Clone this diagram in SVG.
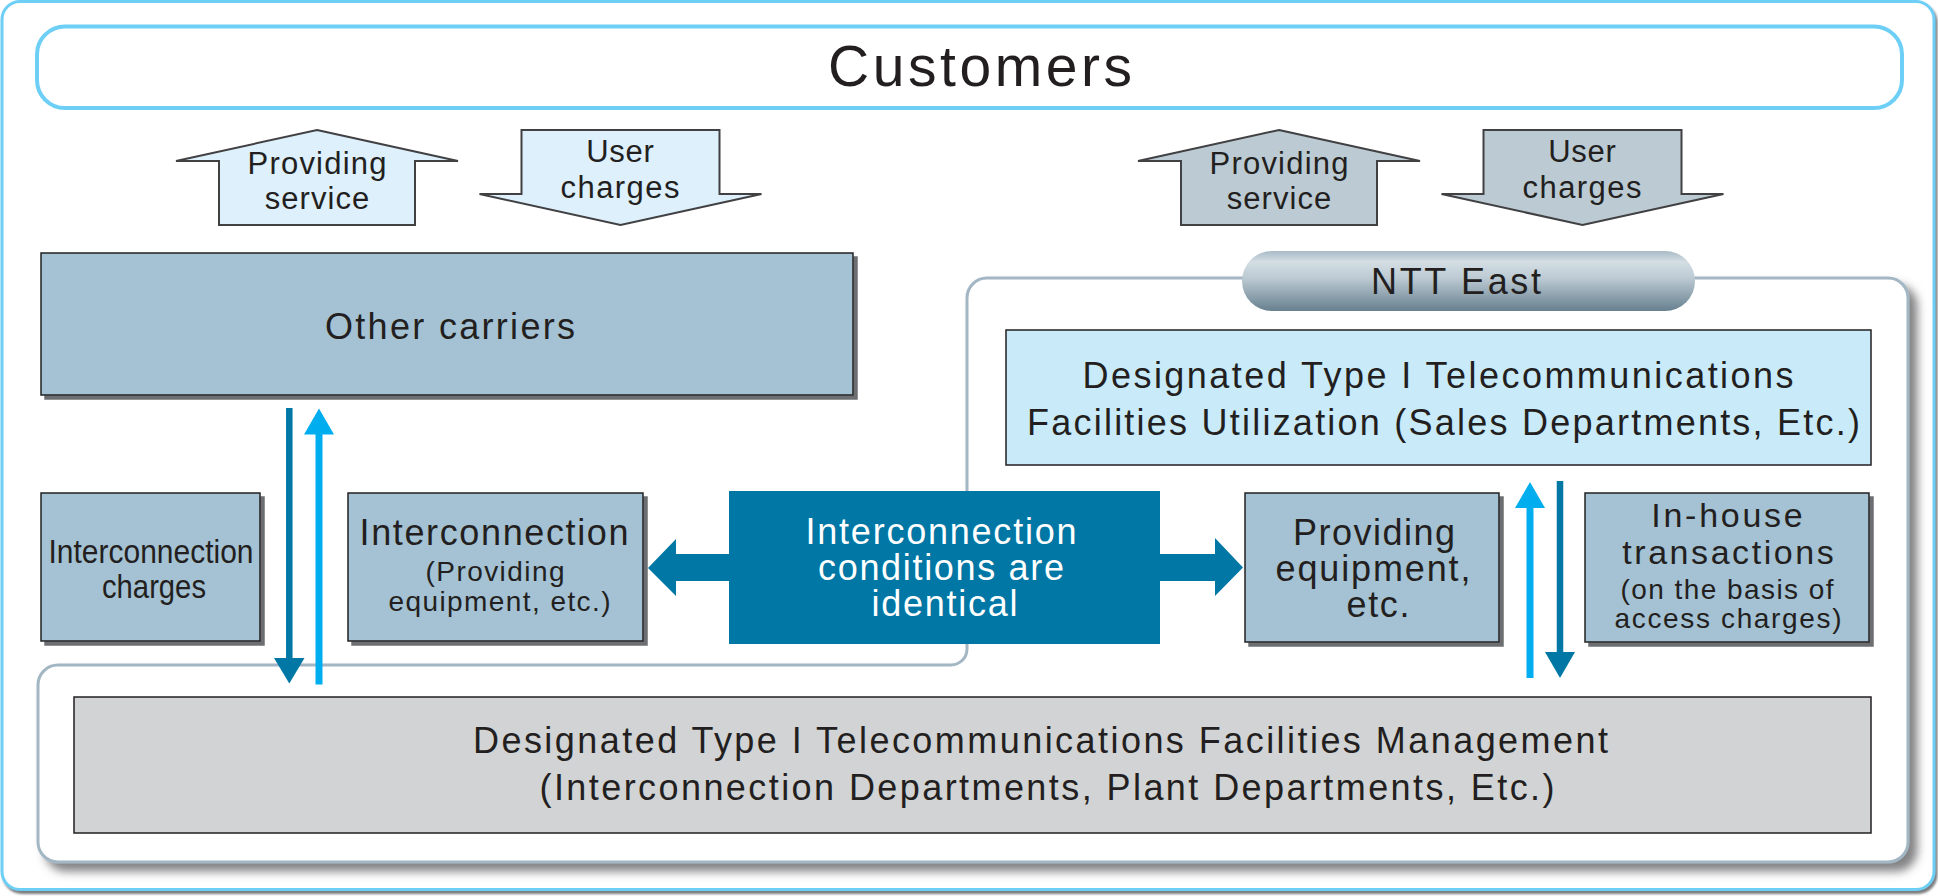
<svg xmlns="http://www.w3.org/2000/svg" width="1938" height="896" viewBox="0 0 1938 896">
  <defs>
    <style>
      text { font-family: "Liberation Sans", Arial, sans-serif; fill: #231f20; text-anchor: middle; }
      .t57 { font-size: 57px; }
      .t36 { font-size: 36px; }
      .t34 { font-size: 34px; }
      .t33 { font-size: 33px; }
      .t31 { font-size: 31px; }
      .t28 { font-size: 28px; }
      .white { fill: #ffffff; }
      .box { fill: #a4c2d3; stroke: #231f20; stroke-width: 1.5; filter: url(#boxShadow); }
      .util { fill: #c8eaf9; stroke: #231f20; stroke-width: 1.5; }
      .mgmt { fill: #d1d3d4; stroke: #231f20; stroke-width: 1.5; }
      .blockL { fill: #ddf0fb; stroke: #414042; stroke-width: 2; }
      .blockR { fill: #bccbd3; stroke: #414042; stroke-width: 2; }
      .dark { fill: #0077a5; }
      .lightA { fill: #00aeef; }
      .darkLine { stroke: #0077a5; stroke-width: 6.5; fill: none; }
      .lightLine { stroke: #00aeef; stroke-width: 7; fill: none; }
    </style>
    <filter id="boxShadow" x="-5%" y="-5%" width="115%" height="120%">
      <feDropShadow dx="4" dy="4" stdDeviation="0.6" flood-color="#6d6e71" flood-opacity="1"/>
    </filter>
    <filter id="softShadow" x="-5%" y="-5%" width="112%" height="115%">
      <feDropShadow dx="8" dy="8" stdDeviation="5" flood-color="#58595b" flood-opacity="0.75"/>
    </filter>
    <filter id="frameShadow" x="-2%" y="-2%" width="104%" height="104%">
      <feDropShadow dx="2" dy="3" stdDeviation="1" flood-color="#6d6e71" flood-opacity="0.9"/>
    </filter>
    <linearGradient id="pillGrad" x1="0" y1="0" x2="0" y2="1">
      <stop offset="0" stop-color="#a9bac6"/>
      <stop offset="0.18" stop-color="#d4dee4"/>
      <stop offset="0.45" stop-color="#bccad3"/>
      <stop offset="1" stop-color="#67808f"/>
    </linearGradient>
    <path id="upArrow" d="M 0 0 L 141 31 L 98 31 L 98 95 L -98 95 L -98 31 L -141 31 Z"/>
    <path id="downArrow" d="M -99 -95 L 99 -95 L 99 -31 L 141 -31 L 0 0 L -141 -31 L -99 -31 Z"/>
  </defs>

  <!-- outer frame -->
  <rect id="frame" x="2" y="1.5" width="1932" height="888" rx="18" fill="#ffffff" stroke="#6dcff6" stroke-width="3" filter="url(#frameShadow)"/>

  <g id="customers">
    <rect x="37" y="26.5" width="1865" height="81.5" rx="28" fill="#ffffff" stroke="#6dcff6" stroke-width="4"/>
    <text class="t57" x="980" y="86" textLength="304" lengthAdjust="spacing">Customers</text>
  </g>

  <g id="left-providing-service">
    <use href="#upArrow" class="blockL" transform="translate(317 130)"/>
    <text class="t31" x="317" y="174" textLength="139" lengthAdjust="spacing">Providing</text>
    <text class="t31" x="317" y="209" textLength="104.5" lengthAdjust="spacing">service</text>
  </g>
  <g id="left-user-charges">
    <use href="#downArrow" class="blockL" transform="translate(620.5 225)"/>
    <text class="t31" x="620" y="162" textLength="67.5" lengthAdjust="spacing">User</text>
    <text class="t31" x="620" y="198" textLength="119" lengthAdjust="spacing">charges</text>
  </g>
  <g id="right-providing-service">
    <use href="#upArrow" class="blockR" transform="translate(1279 130)"/>
    <text class="t31" x="1279" y="174" textLength="139" lengthAdjust="spacing">Providing</text>
    <text class="t31" x="1279" y="209" textLength="104.5" lengthAdjust="spacing">service</text>
  </g>
  <g id="right-user-charges">
    <use href="#downArrow" class="blockR" transform="translate(1582.5 225)"/>
    <text class="t31" x="1582" y="162" textLength="67.5" lengthAdjust="spacing">User</text>
    <text class="t31" x="1582" y="198" textLength="119" lengthAdjust="spacing">charges</text>
  </g>

  <g id="other-carriers">
    <rect class="box" x="41" y="253" width="812" height="142"/>
    <text class="t36" x="450" y="339" textLength="250" lengthAdjust="spacing">Other carriers</text>
  </g>

  <g id="ntt-east">
    <path d="M 987 278 H 1888 A 20 20 0 0 1 1908 298 V 842 A 20 20 0 0 1 1888 862 H 58 A 20 20 0 0 1 38 842 V 685 A 20 20 0 0 1 58 665 H 951 A 16 16 0 0 0 967 649 V 298 A 20 20 0 0 1 987 278 Z" fill="#ffffff" stroke="#a3b6c3" stroke-width="3" filter="url(#softShadow)"/>
    <rect x="1242" y="251" width="453" height="60" rx="30" fill="url(#pillGrad)"/>
    <text class="t36" x="1456" y="294" textLength="170" lengthAdjust="spacing">NTT East</text>
  </g>

  <g id="utilization">
    <rect class="util" x="1006" y="330" width="865" height="135"/>
    <text class="t36" x="1438" y="388" textLength="711" lengthAdjust="spacing">Designated Type I Telecommunications</text>
    <text class="t36" x="1443.5" y="435" textLength="833" lengthAdjust="spacing">Facilities Utilization (Sales Departments, Etc.)</text>
  </g>

  <g id="management">
    <rect class="mgmt" x="74" y="697" width="1797" height="136"/>
    <text class="t36" x="1040.5" y="753" textLength="1135" lengthAdjust="spacing">Designated Type I Telecommunications Facilities Management</text>
    <text class="t36" x="1047" y="800" textLength="1015" lengthAdjust="spacing">(Interconnection Departments, Plant Departments, Etc.)</text>
  </g>

  <g id="interconnection-charges">
    <rect class="box" x="41" y="493" width="219" height="148"/>
    <text class="t33" x="151" y="563" textLength="205" lengthAdjust="spacingAndGlyphs">Interconnection</text>
    <text class="t33" x="154" y="598" textLength="104" lengthAdjust="spacingAndGlyphs">charges</text>
  </g>

  <g id="interconnection">
    <rect class="box" x="348" y="493" width="295" height="148"/>
    <text class="t36" x="494" y="545" textLength="269" lengthAdjust="spacing">Interconnection</text>
    <text class="t28" x="495" y="581" textLength="139" lengthAdjust="spacing">(Providing</text>
    <text class="t28" x="499.5" y="611" textLength="222" lengthAdjust="spacing">equipment, etc.)</text>
  </g>

  <g id="conditions">
    <rect class="dark" x="729" y="491" width="431" height="153"/>
    <text class="t36 white" x="941" y="544" textLength="271" lengthAdjust="spacing">Interconnection</text>
    <text class="t36 white" x="941" y="579.5" textLength="246" lengthAdjust="spacing">conditions are</text>
    <text class="t36 white" x="944.5" y="616" textLength="146" lengthAdjust="spacing">identical</text>
  </g>

  <g id="providing-equipment">
    <rect class="box" x="1245" y="493" width="254" height="149"/>
    <text class="t36" x="1374" y="545" textLength="162" lengthAdjust="spacing">Providing</text>
    <text class="t36" x="1373" y="581" textLength="195" lengthAdjust="spacing">equipment,</text>
    <text class="t36" x="1378" y="617" textLength="63" lengthAdjust="spacing">etc.</text>
  </g>

  <g id="in-house">
    <rect class="box" x="1585" y="493" width="284" height="149"/>
    <text class="t34" x="1727" y="526.5" textLength="151.5" lengthAdjust="spacing">In-house</text>
    <text class="t34" x="1728" y="563.5" textLength="211.5" lengthAdjust="spacing">transactions</text>
    <text class="t28" x="1727" y="598.5" textLength="213" lengthAdjust="spacing">(on the basis of</text>
    <text class="t28" x="1728" y="627.5" textLength="227" lengthAdjust="spacing">access charges)</text>
  </g>

  <g id="connectors">
    <!-- fat arrows from conditions box -->
    <polygon class="dark" points="730,554 676,554 676,539 648,568 676,596 676,581 730,581"/>
    <polygon class="dark" points="1159,554 1215,554 1215,538 1243,567.5 1215,596 1215,581 1159,581"/>
    <!-- left pair: other carriers <-> management -->
    <line class="darkLine" x1="289.3" y1="408" x2="289.3" y2="660"/>
    <polygon class="dark" points="274,658 304.5,658 289.3,683.5"/>
    <line class="lightLine" x1="319" y1="432" x2="319" y2="684.5"/>
    <polygon class="lightA" points="304,434.5 334,434.5 319,408.5"/>
    <!-- right pair: utilization <-> management -->
    <line class="lightLine" x1="1530" y1="506" x2="1530" y2="678"/>
    <polygon class="lightA" points="1515,508 1545,508 1530,482"/>
    <line class="darkLine" x1="1560" y1="481" x2="1560" y2="654"/>
    <polygon class="dark" points="1545,652 1575,652 1560,678"/>
  </g>
</svg>
